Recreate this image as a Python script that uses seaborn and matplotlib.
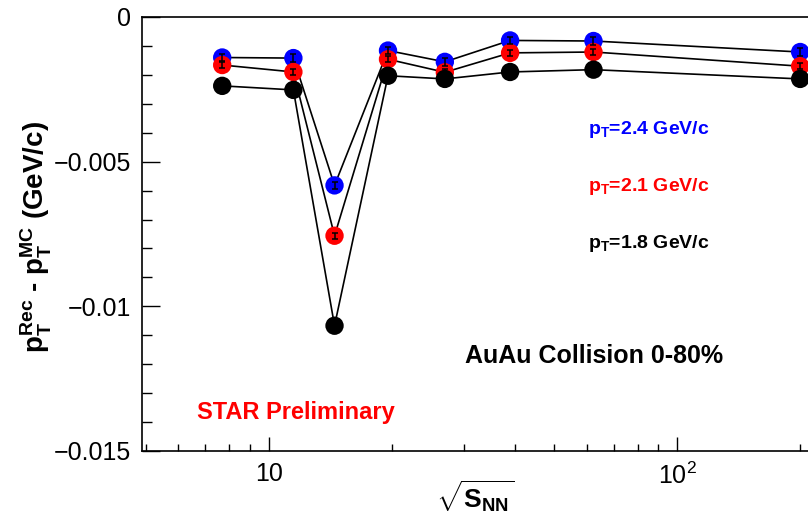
import matplotlib
matplotlib.use("Agg")
import matplotlib.pyplot as plt
from matplotlib.ticker import FixedLocator, FixedFormatter, LogLocator, NullFormatter, MultipleLocator
import numpy as np
import pandas as pd
import seaborn as sns

# Collision energies (GeV) and mean pT shift (reconstructed - MC) per pT bin
energies = [7.7, 11.5, 14.5, 19.6, 27, 39, 62.4, 200]
shift_pt24 = [-0.00140, -0.00142, -0.00582, -0.00116, -0.00155, -0.00081, -0.00083, -0.00121]
shift_pt21 = [-0.00166, -0.00190, -0.00756, -0.00146, -0.00191, -0.00124, -0.00121, -0.00170]
shift_pt18 = [-0.00238, -0.00252, -0.01067, -0.00203, -0.00214, -0.00190, -0.00182, -0.00214]
err_pt24 = [0.00013] * 8
err_pt21 = [0.00011] * 8
err_pt18 = [0.00010] * 8

series_names = ["pT=2.4", "pT=2.1", "pT=1.8"]
series_colors = ["#0000ff", "#ff0000", "#000000"]
series_labels = [r"$\mathbf{p_{T}}$=2.4 GeV/c",
                 r"$\mathbf{p_{T}}$=2.1 GeV/c",
                 r"$\mathbf{p_{T}}$=1.8 GeV/c"]

frames = []
for name, vals, errs in zip(series_names,
                            [shift_pt24, shift_pt21, shift_pt18],
                            [err_pt24, err_pt21, err_pt18]):
    frames.append(pd.DataFrame({"energy": energies, "shift": vals,
                                "err": errs, "series": name}))
df = pd.concat(frames, ignore_index=True)

sns.set_style("ticks")
plt.rcParams["font.family"] = ["Liberation Sans", "DejaVu Sans"]
plt.rcParams["mathtext.fontset"] = "custom"
plt.rcParams["mathtext.rm"] = "Liberation Sans"
plt.rcParams["mathtext.it"] = "Liberation Sans:italic"
plt.rcParams["mathtext.bf"] = "Liberation Sans:bold"
plt.rcParams["axes.linewidth"] = 1.2
for key in ["text.color", "axes.edgecolor", "axes.labelcolor",
            "xtick.color", "ytick.color"]:
    plt.rcParams[key] = "black"

W, H = 808, 520
fig = plt.figure(figsize=(W / 100, H / 100), dpi=100)
ax = fig.add_axes([142 / W, (H - 451) / H, (W - 142) / W, (451 - 17) / H])
ax.set_xscale("log")

# connecting lines
for name in series_names:
    sub = df[df["series"] == name]
    sns.lineplot(data=sub, x="energy", y="shift", color="black", lw=1.2,
                 estimator=None, sort=False, ax=ax, zorder=2)

# markers
sns.scatterplot(data=df, x="energy", y="shift", hue="series",
                palette=dict(zip(series_names, series_colors)),
                s=175, linewidth=0, legend=False, ax=ax, zorder=3)

# statistical error bars
ax.errorbar(df["energy"], df["shift"], yerr=df["err"], fmt="none",
            ecolor="black", elinewidth=1.1, capsize=2.5, capthick=1.1, zorder=4)

ax.set_xlim(4.9, 209)
ax.set_ylim(-0.015, 0)
ax.set_xlabel("")
ax.set_ylabel("")

ax.xaxis.set_major_locator(FixedLocator([10, 100]))
ax.xaxis.set_major_formatter(FixedFormatter(["10", r"$\mathregular{10^{2}}$"]))
ax.xaxis.set_minor_locator(LogLocator(base=10, subs=np.arange(2, 10)))
ax.xaxis.set_minor_formatter(NullFormatter())

y_ticks = [0, -0.005, -0.01, -0.015]
y_tick_labels = ["0", "\u22120.005", "\u22120.01", "\u22120.015"]
ax.yaxis.set_major_locator(FixedLocator(y_ticks))
ax.yaxis.set_major_formatter(FixedFormatter(y_tick_labels))
ax.yaxis.set_minor_locator(MultipleLocator(0.001))

ax.tick_params(axis="both", which="both", direction="in", colors="black",
               width=1.0, labelsize=18)
ax.tick_params(axis="y", which="major", length=13, pad=8)
ax.tick_params(axis="y", which="minor", length=7)
ax.tick_params(axis="x", which="major", length=10, pad=8)
ax.tick_params(axis="x", which="minor", length=5)
ax.spines["right"].set_visible(False)

# axis titles
fig.text(36 / W, 1 - 237 / H,
         r"$\mathbf{p_{T}^{Rec}}$ - $\mathbf{p_{T}^{MC}}$ (GeV/c)",
         rotation=90, ha="center", va="center", fontsize=20, fontweight="bold")
fig.text(475 / W, 1 - 497 / H, r"$\sqrt{\mathbf{S_{NN}}}$",
         ha="center", va="center", fontsize=19)

# annotations
for lbl, col, yb in zip(series_labels, series_colors, [134, 191, 248]):
    fig.text(588 / W, 1 - yb / H, lbl, color=col, fontsize=14,
             fontweight="bold", ha="left", va="baseline")
fig.text(465 / W, 1 - 363 / H, "AuAu Collision 0-80%", color="black",
         fontsize=18, fontweight="bold", ha="left", va="baseline")
fig.text(197 / W, 1 - 419 / H, "STAR Preliminary", color="#ff0000",
         fontsize=17, fontweight="bold", ha="left", va="baseline")

fig.savefig("out.png", dpi=100)
